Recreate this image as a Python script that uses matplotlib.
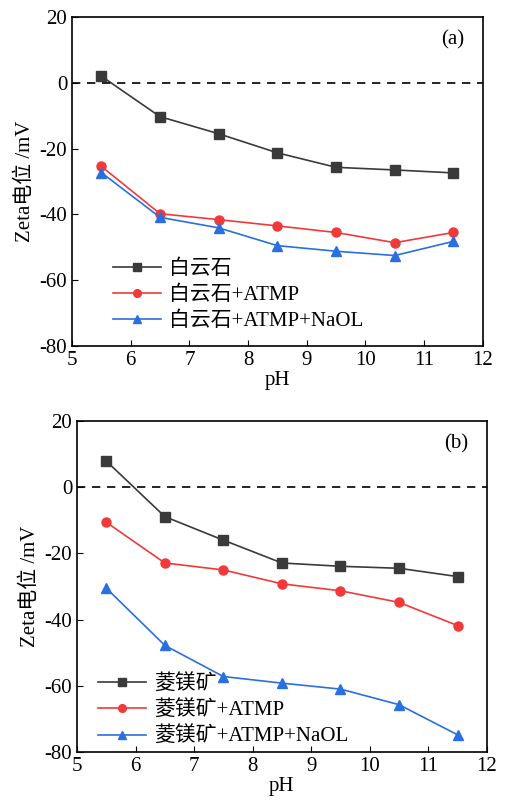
import matplotlib.pyplot as plt

plt.rcParams['font.family'] = ['Liberation Serif', 'Noto Sans CJK SC']
plt.rcParams['axes.unicode_minus'] = False

ph = [5.5, 6.5, 7.5, 8.5, 9.5, 10.5, 11.5]

# (a) dolomite
dol = [2.0, -10.3, -15.5, -21.3, -25.7, -26.5, -27.4]
dol_atmp = [-25.4, -39.8, -41.6, -43.5, -45.5, -48.6, -45.5]
dol_atmp_naol = [-27.3, -40.9, -44.1, -49.5, -51.2, -52.5, -48.2]

# (b) magnesite
mag = [7.9, -8.9, -16.0, -22.9, -23.9, -24.5, -27.0]
mag_atmp = [-10.6, -22.9, -25.0, -29.2, -31.3, -34.8, -41.8]
mag_atmp_naol = [-30.5, -47.8, -57.2, -59.2, -61.0, -65.7, -74.8]

labels_a = ['白云石', '白云石+ATMP', '白云石+ATMP+NaOL']
labels_b = ['菱镁矿', '菱镁矿+ATMP', '菱镁矿+ATMP+NaOL']

colors = ['#3a3a3a', '#f03a3a', '#2a6fe0']
markers = ['s', 'o', '^']

fig = plt.figure(figsize=(5.05, 8.06), dpi=100)
ax1 = fig.add_axes([0.1426, 0.5707, 0.8134, 0.4083])
ax2 = fig.add_axes([0.1525, 0.0670, 0.8115, 0.4107])


def draw(ax, series, labels, tag, legend_loc):
    for ys, lab, c, m in zip(series, labels, colors, markers):
        ax.plot(ph, ys, color=c, marker=m, markersize=6.5, linewidth=1.2, label=lab)
    ax.axhline(0, color='black', linestyle='--', linewidth=1.2, dashes=(5, 4))
    ax.set_xlim(5, 12)
    ax.set_ylim(-80, 20)
    ax.set_xticks(range(5, 13))
    ax.set_yticks(range(-80, 21, 20))
    ax.tick_params(direction='in', labelsize=15, length=4)
    ax.set_xlabel('pH', fontsize=15, labelpad=1)
    ax.set_ylabel('Zeta电位 /mV', fontsize=15, labelpad=3)
    for s in ax.spines.values():
        s.set_linewidth(1.2)
    ax.text(0.955, 0.93, tag, transform=ax.transAxes, fontsize=15, ha='right', va='center')
    ax.legend(loc=legend_loc, frameon=False, fontsize=15, handlelength=2.3,
              labelspacing=0.3, handletextpad=0.4, borderaxespad=0.4, markerscale=0.85)


draw(ax1, [dol, dol_atmp, dol_atmp_naol], labels_a, '(a)', (0.08, 0.02))
draw(ax2, [mag, mag_atmp, mag_atmp_naol], labels_b, '(b)', (0.03, -0.01))

fig.savefig('out.png', dpi=100)
